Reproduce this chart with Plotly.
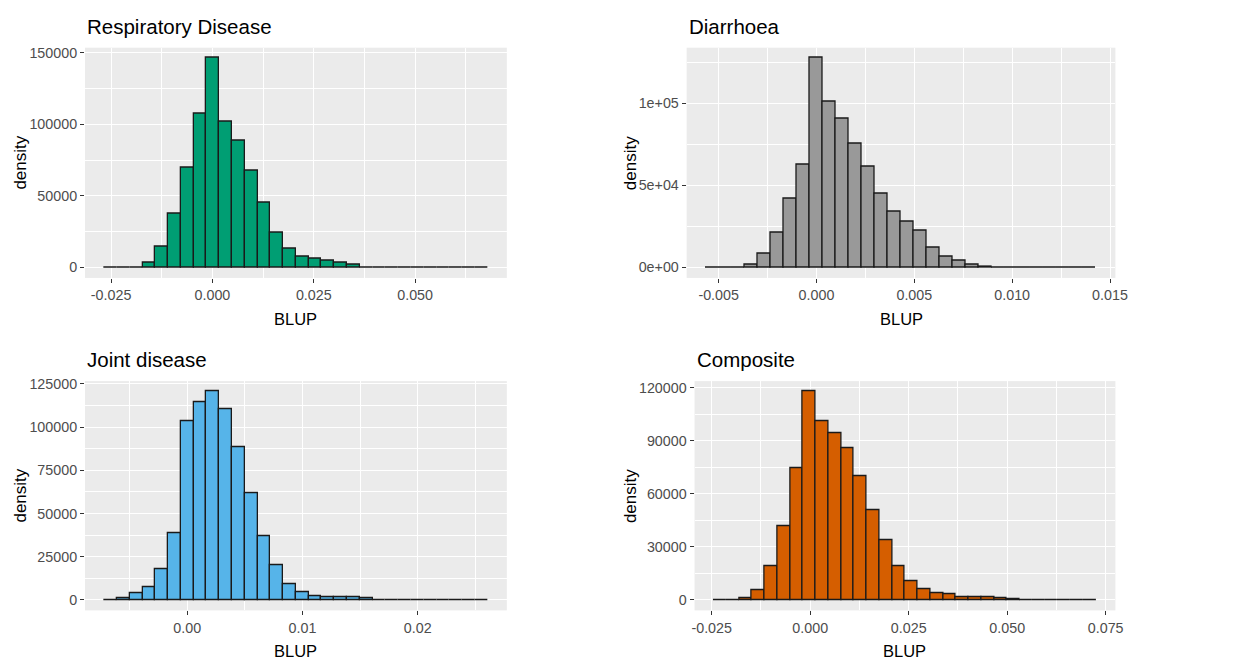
import plotly.graph_objects as go

# ---------------- data ----------------
titles = ["Respiratory Disease", "Diarrhoea", "Joint disease", "Composite"]
fill_colors = ["#009E73", "#999999", "#56B4E9", "#D55E00"]

# 30-bin histograms: first bin left edge and bin width, then densities
resp_start, resp_width = -0.0267, 0.003153
resp_density = [0, 0, 0, 3000, 14200, 37800, 70000, 107800, 146300, 102000,
                88900, 67900, 45500, 24500, 13100, 7700, 5800, 4900, 3000, 2100,
                0, 0, 0, 0, 0, 0, 0, 0, 0, 0]

diar_start, diar_width = -0.00564, 0.000664
diar_density = [0, 0, 0, 1600, 8300, 21300, 41900, 62400, 127400, 101000,
                90400, 75600, 61600, 45100, 33700, 27800, 22200, 12200, 6300, 4100,
                1600, 600, 0, 0, 0, 0, 0, 0, 0, 0]

joint_start, joint_width = -0.0072, 0.001109
joint_density = [0, 800, 4200, 7500, 17600, 38800, 103600, 114400, 120600, 110300,
                 88700, 62100, 37000, 19900, 8900, 4400, 2100, 1400, 1400, 1400,
                 800, 0, 0, 0, 0, 0, 0, 0, 0, 0]

comp_start, comp_width = -0.0245, 0.003237
comp_density = [0, 0, 900, 5500, 19200, 41900, 74700, 117900, 101400, 94200,
                86100, 70200, 51000, 33700, 19200, 10700, 6200, 4100, 3200, 1700,
                1500, 1500, 900, 700, 0, 0, 0, 0, 0, 0]

# tick values / labels
resp_xticks = [-0.025, 0.0, 0.025, 0.05]
resp_xlabels = ["-0.025", "0.000", "0.025", "0.050"]
resp_yticks = [0, 50000, 100000, 150000]
resp_ylabels = ["0", "50000", "100000", "150000"]

diar_xticks = [-0.005, 0.0, 0.005, 0.010, 0.015]
diar_xlabels = ["-0.005", "0.000", "0.005", "0.010", "0.015"]
diar_yticks = [0, 50000, 100000]
diar_ylabels = ["0e+00", "5e+04", "1e+05"]

joint_xticks = [0.0, 0.01, 0.02]
joint_xlabels = ["0.00", "0.01", "0.02"]
joint_yticks = [0, 25000, 50000, 75000, 100000, 125000]
joint_ylabels = ["0", "25000", "50000", "75000", "100000", "125000"]

comp_xticks = [-0.025, 0.0, 0.025, 0.05, 0.075]
comp_xlabels = ["-0.025", "0.000", "0.025", "0.050", "0.075"]
comp_yticks = [0, 30000, 60000, 90000, 120000]
comp_ylabels = ["0", "30000", "60000", "90000", "120000"]

# ---------------- layout geometry (pixels) ----------------
W, H = 1242, 661
FONT = "Liberation Sans, Arial, sans-serif"
panels_px = [  # left, right, top, bottom of plot area
    (83, 510, 43, 275),
    (692, 1126, 43, 275),
    (83, 510, 379, 610),
    (700, 1126, 379, 610),
]
title_pos = [(83, 22), (692, 22), (83, 357), (700, 357)]
ytitle_x = [18, 635, 18, 635]
xtitle_y = [316, 316, 651, 651]

panels = [
    (resp_start, resp_width, resp_density, resp_xticks, resp_xlabels, resp_yticks, resp_ylabels),
    (diar_start, diar_width, diar_density, diar_xticks, diar_xlabels, diar_yticks, diar_ylabels),
    (joint_start, joint_width, joint_density, joint_xticks, joint_xlabels, joint_yticks, joint_ylabels),
    (comp_start, comp_width, comp_density, comp_xticks, comp_xlabels, comp_yticks, comp_ylabels),
]

fig = go.Figure()
annotations = []
layout_axes = {}

for i, (start, width, dens, xt, xl, yt, yl) in enumerate(panels):
    n = i + 1
    xa = "x" if n == 1 else f"x{n}"
    ya = "y" if n == 1 else f"y{n}"
    centers = [start + width * (k + 0.5) for k in range(len(dens))]
    fig.add_trace(go.Bar(
        x=centers, y=dens, width=width,
        marker=dict(color=fill_colors[i], line=dict(color="#1a1a1a", width=1.3)),
        xaxis=xa, yaxis=ya, showlegend=False, hoverinfo="x+y",
    ))
    span = width * len(dens)
    x0, x1 = start - 0.05 * span, start + span + 0.05 * span
    ymax = max(dens)
    y0, y1 = -0.05 * ymax, 1.05 * ymax

    l, r, t, b = panels_px[i]
    xdom = [l / W, r / W]
    ydom = [1 - b / H, 1 - t / H]
    common = dict(
        showline=False, zeroline=False, showgrid=True,
        gridcolor="white", gridwidth=1.1,
        ticks="outside", ticklen=4, tickwidth=1, tickcolor="#333333",
        tickfont=dict(family=FONT, size=14.3, color="#4D4D4D"),
        tickmode="array", fixedrange=True,
    )
    layout_axes["xaxis" if n == 1 else f"xaxis{n}"] = dict(
        common, domain=xdom, range=[x0, x1], anchor=ya,
        tickvals=xt, ticktext=xl,
        minor=dict(tickmode="linear", tick0=xt[0], dtick=(xt[1] - xt[0]) / 2,
                   showgrid=True, gridcolor="white", gridwidth=0.5, ticklen=0),
    )
    layout_axes["yaxis" if n == 1 else f"yaxis{n}"] = dict(
        common, domain=ydom, range=[y0, y1], anchor=xa,
        tickvals=yt, ticktext=yl,
        minor=dict(tickmode="linear", tick0=yt[0], dtick=(yt[1] - yt[0]) / 2,
                   showgrid=True, gridcolor="white", gridwidth=0.5, ticklen=0),
    )
    # panel title
    tx, ty = title_pos[i]
    annotations.append(dict(
        text=titles[i], x=tx / W, y=1 - ty / H, xref="paper", yref="paper",
        xanchor="left", yanchor="middle", showarrow=False,
        font=dict(family=FONT, size=20.5, color="black")))
    # y title
    annotations.append(dict(
        text="density", x=ytitle_x[i] / W, y=1 - ((t + b) / 2) / H,
        xref="paper", yref="paper", xanchor="center", yanchor="middle",
        textangle=-90, showarrow=False,
        font=dict(family=FONT, size=17, color="black")))
    # x title
    annotations.append(dict(
        text="BLUP", x=((l + r) / 2) / W, y=1 - xtitle_y[i] / H,
        xref="paper", yref="paper", xanchor="center", yanchor="middle",
        showarrow=False, font=dict(family=FONT, size=16.5, color="black")))

fig.update_layout(
    width=W, height=H,
    margin=dict(l=0, r=0, t=0, b=0),
    paper_bgcolor="white", plot_bgcolor="#EBEBEB",
    bargap=0, annotations=annotations,
    font=dict(family=FONT),
    **layout_axes,
)

fig.write_html("out.html")
